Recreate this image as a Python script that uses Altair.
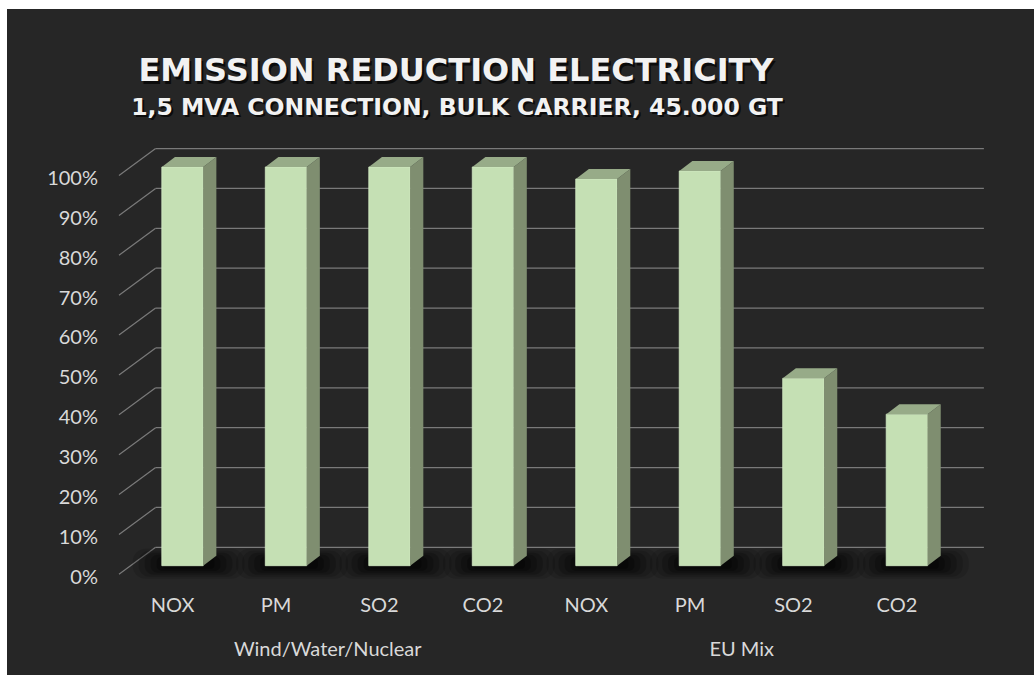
import altair as alt
import pandas as pd

# ---- data ---------------------------------------------------------------
pollutants = ["NOX", "PM", "SO2", "CO2", "NOX", "PM", "SO2", "CO2"]
sources = ["Wind/Water/Nuclear"] * 4 + ["EU Mix"] * 4
reduction = [1.00, 1.00, 1.00, 1.00, 0.97, 0.99, 0.47, 0.38]
tick_values = [0.0, 0.1, 0.2, 0.3, 0.4, 0.5, 0.6, 0.7, 0.8, 0.9, 1.0]
tick_labels = ["0%", "10%", "20%", "30%", "40%", "50%", "60%", "70%", "80%", "90%", "100%"]
title_text = "EMISSION REDUCTION ELECTRICITY"
subtitle_text = "1,5 MVA CONNECTION, BULK CARRIER, 45.000 GT"

# ---- styling ------------------------------------------------------------
BG = "#262626"
FRONT = "#c5e0b4"
SIDE = "#7f8e70"
TOP = "#97ab88"
GRID = "#7a7a7a"
LABEL = "#d9d9d9"
TITLE = "#f2f2f2"

# pseudo-3D geometry: x in category slots, y in value units
HALF = 0.2        # half width of a column's front face
DX = 0.127        # depth of a column, horizontal
DY = 0.0251       # depth of a column, vertical
WALL_LEFT = -0.26     # back wall left edge
WALL_RIGHT = 7.744    # back wall right edge
FRONT_LEFT = -0.614   # front end of the side-wall ticks

x_scale = alt.Scale(domain=[-1.6478, 8.1799], nice=False, zero=False)
y_scale = alt.Scale(domain=[-0.27414, 1.39629], nice=False, zero=False)


def X(field, **kw):
    return alt.X(field, type="quantitative", scale=x_scale, axis=None, **kw)


def Y(field, **kw):
    return alt.Y(field, type="quantitative", scale=y_scale, axis=None, **kw)


bars = pd.DataFrame({"slot": list(range(len(reduction))),
                     "pollutant": pollutants, "source": sources,
                     "value": reduction})
bars["xl"] = bars["slot"] - HALF
bars["xr"] = bars["slot"] + HALF
bars["base"] = 0.0

side_rows, top_rows = [], []
for r in bars.itertuples():
    side_rows.append({"bar": r.slot, "x": r.xr, "top": r.value, "bot": 0.0})
    side_rows.append({"bar": r.slot, "x": r.xr + DX, "top": r.value + DY, "bot": DY})
    top_rows.append({"bar": r.slot, "y": r.value, "x": r.xl, "x2": r.xr})
    top_rows.append({"bar": r.slot, "y": r.value + DY, "x": r.xl + DX, "x2": r.xr + DX})
side = pd.DataFrame(side_rows)
top = pd.DataFrame(top_rows)

ticks = pd.DataFrame({"t": tick_values, "label": tick_labels,
                      "x0": WALL_LEFT, "x1": WALL_RIGHT, "xf": FRONT_LEFT})

groups = bars.groupby("source", sort=False)["slot"].mean().reset_index()

# ---- layers -------------------------------------------------------------
grid = alt.Chart(ticks).mark_rule(color=GRID, strokeWidth=1.3, yOffset=-18.4).encode(
    x=X("x0"), x2="x1", y=Y("t"))

wall_ticks = alt.Chart(ticks).mark_rule(
    color=GRID, strokeWidth=1.2, yOffset=8.6, y2Offset=-18.4).encode(
    x=X("xf"), x2="x0", y=Y("t"), y2="t")

tick_text = alt.Chart(ticks).mark_text(
    align="right", baseline="alphabetic", font="Lato", fontSize=20,
    color=LABEL, xOffset=-21, yOffset=18).encode(
    x=X("xf"), y=Y("t"), text="label:N")

# soft drop shadow under each column, built from stacked translucent pills
shadow_layers = []
for extra, half_h, op in [(70, 13, 0.12), (58, 11, 0.15), (46, 9, 0.18),
                          (34, 7, 0.2), (22, 5, 0.25), (10, 3, 0.3)]:
    shadow_layers.append(
        alt.Chart(bars).mark_bar(
            width=41.8 + extra, color="#000000", opacity=op,
            cornerRadius=half_h, xOffset=6, yOffset=-4).encode(
            x=X("slot"),
            y=alt.Y(datum=half_h / 398.7, scale=y_scale, axis=None),
            y2=alt.Y2(datum=-half_h / 398.7)))

front = alt.Chart(bars).mark_rect(
    color=FRONT, stroke="#d3ebc4", strokeWidth=0.8).encode(
    x=X("xl"), x2="xr", y=Y("value"), y2="base")

side_face = alt.Chart(side).mark_area(color=SIDE, opacity=1).encode(
    x=X("x"), y=Y("top", stack=None), y2="bot", detail="bar:N")

top_face = alt.Chart(top).mark_area(color=TOP, orient="horizontal", opacity=1).encode(
    y=Y("y"), x=X("x", stack=None), x2="x2", detail="bar:N")

cat_text = alt.Chart(bars).mark_text(
    align="center", baseline="alphabetic", font="Lato", fontSize=20,
    color=LABEL, xOffset=-10).encode(
    x=X("slot"), y=alt.value(603), text="pollutant:N")

group_text = alt.Chart(groups).mark_text(
    align="center", baseline="alphabetic", font="Lato", fontSize=20,
    color=LABEL, xOffset=-10).encode(
    x=X("slot"), y=alt.value(647), text="source:N")

heads = pd.DataFrame({"title": [title_text], "subtitle": [subtitle_text]})
title_shadow = alt.Chart(heads).mark_text(
    align="center", baseline="alphabetic", font="DejaVu Sans", fontWeight="bold",
    fontSize=32, color="#000000", opacity=0.7, dx=2, dy=3).encode(
    x=alt.value(449), y=alt.value(72), text="title:N")
title = alt.Chart(heads).mark_text(
    align="center", baseline="alphabetic", font="DejaVu Sans", fontWeight="bold",
    fontSize=32, color=TITLE).encode(
    x=alt.value(449), y=alt.value(72), text="title:N")
subtitle_shadow = alt.Chart(heads).mark_text(
    align="center", baseline="alphabetic", font="DejaVu Sans", fontWeight="bold",
    fontSize=23.5, color="#000000", opacity=0.7, dx=2, dy=2).encode(
    x=alt.value(450), y=alt.value(106), text="subtitle:N")
subtitle = alt.Chart(heads).mark_text(
    align="center", baseline="alphabetic", font="DejaVu Sans", fontWeight="bold",
    fontSize=23.5, color=TITLE).encode(
    x=alt.value(450), y=alt.value(106), text="subtitle:N")

chart = alt.layer(
    grid, wall_ticks, tick_text, *shadow_layers, front, side_face, top_face,
    cat_text, group_text, title_shadow, title, subtitle_shadow, subtitle,
).properties(
    width=1027, height=666,
    padding={"left": 7, "top": 9, "right": 0, "bottom": 0},
    autosize=alt.AutoSizeParams(type="none"),
    background="#ffffff",
).configure_view(fill=BG, stroke=None)

chart.save("out.html", embed_options={"renderer": "svg", "actions": False})
